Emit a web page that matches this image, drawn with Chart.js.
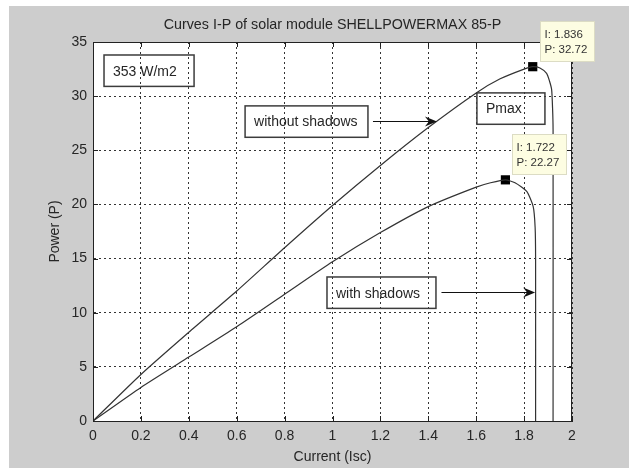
<!DOCTYPE html>
<html>
<head>
<meta charset="utf-8">
<script src="https://cdn.jsdelivr.net/npm/chart.js@4/dist/chart.umd.min.js"></script>
<style>
html, body { margin: 0; padding: 0; background: #fff; }
canvas { display: block; }
</style>
</head>
<body>
<canvas id="ipChart" width="629" height="468"></canvas>
<script>
// curve without shadows (current Isc, power P)
const curNoShade = [0, 0.2, 0.4, 0.6, 0.8, 1.0, 1.2, 1.4, 1.6, 1.7, 1.8, 1.836, 1.866, 1.894, 1.906, 1.915, 1.919, 1.921, 1.921];
const powNoShade = [0, 4.3, 8.2, 12.0, 16.0, 19.9, 23.6, 27.1, 30.3, 31.6, 32.5, 32.72, 32.6, 32.1, 31.4, 30.6, 28.8, 26.9, 0];

// curve with shadows
const curShade = [0, 0.2, 0.4, 0.6, 0.8, 1.0, 1.2, 1.4, 1.6, 1.66, 1.722, 1.762, 1.811, 1.838, 1.846, 1.848, 1.848];
const powShade = [0, 3.1, 5.9, 8.7, 11.7, 14.7, 17.4, 19.8, 21.6, 22.0, 22.27, 22.0, 21.2, 19.8, 17.9, 15.0, 0];

// data tips (maximum power points)
const peakCur = [1.836, 1.722];
const peakPow = [32.72, 22.27];

const xTicks = [0, 0.2, 0.4, 0.6, 0.8, 1, 1.2, 1.4, 1.6, 1.8, 2];
const yTicks = [0, 5, 10, 15, 20, 25, 30, 35];

const titleText = "Curves I-P of solar module SHELLPOWERMAX 85-P";
const xLabel = "Current (Isc)";
const yLabel = "Power (P)";

// text boxes, in data units
const boxLabels = ["353 W/m2", "without shadows", "Pmax", "with shadows"];
const boxX0 = [0.046, 0.635, 1.603, 0.977];
const boxX1 = [0.422, 1.148, 1.887, 1.432];
const boxYTop = [33.8, 29.1, 30.3, 13.3];
const boxYBot = [30.9, 26.2, 27.4, 10.4];

// arrows, in data units
const arrowY = [27.7, 11.9];
const arrowX0 = [1.169, 1.455];
const arrowX1 = [1.436, 1.846];

const FONT = '"Liberation Sans", Arial, sans-serif';
const INK = "#262626";

function toPoints(xs, ys) {
  return xs.map((x, i) => ({ x: x, y: ys[i] }));
}

const decor = {
  id: "decor",
  beforeDraw(chart) {
    const ctx = chart.ctx;
    const a = chart.chartArea;
    ctx.save();
    ctx.fillStyle = "#ffffff";
    ctx.fillRect(0, 0, chart.width, chart.height);
    ctx.fillStyle = "#cdcdcd";
    ctx.fillRect(9, 6, chart.width - 9, chart.height - 6);
    ctx.fillStyle = "#ffffff";
    ctx.fillRect(a.left, a.top, a.right - a.left, a.bottom - a.top);
    ctx.restore();
  },
  afterDraw(chart) {
    const ctx = chart.ctx;
    const a = chart.chartArea;
    const sx = chart.scales.x;
    const sy = chart.scales.y;
    ctx.save();

    // frame and inner tick marks
    ctx.strokeStyle = "#222";
    ctx.lineWidth = 1;
    ctx.setLineDash([]);
    ctx.strokeRect(a.left + 0.5, a.top + 0.5, a.right - a.left - 1, a.bottom - a.top);
    ctx.beginPath();
    xTicks.forEach(v => {
      const px = Math.round(sx.getPixelForValue(v)) + 0.5;
      ctx.moveTo(px, a.bottom); ctx.lineTo(px, a.bottom - 5);
      ctx.moveTo(px, a.top); ctx.lineTo(px, a.top + 5);
    });
    yTicks.forEach(v => {
      const py = Math.round(sy.getPixelForValue(v)) + 0.5;
      ctx.moveTo(a.left, py); ctx.lineTo(a.left + 5, py);
      ctx.moveTo(a.right, py); ctx.lineTo(a.right - 5, py);
    });
    ctx.stroke();

    // title and axis labels
    ctx.fillStyle = INK;
    ctx.font = "14.3px " + FONT;
    ctx.textAlign = "center";
    ctx.textBaseline = "middle";
    ctx.fillText(titleText, (a.left + a.right) / 2, 25);
    ctx.font = "14px " + FONT;
    ctx.fillText(xLabel, (a.left + a.right) / 2, 457);
    ctx.save();
    ctx.translate(55, (a.top + a.bottom) / 2);
    ctx.rotate(-Math.PI / 2);
    ctx.fillText(yLabel, 0, 0);
    ctx.restore();

    // text boxes
    ctx.strokeStyle = "#3c3c3c";
    ctx.lineWidth = 1.5;
    ctx.textAlign = "left";
    boxLabels.forEach((t, i) => {
      const x0 = sx.getPixelForValue(boxX0[i]);
      const x1 = sx.getPixelForValue(boxX1[i]);
      const y0 = sy.getPixelForValue(boxYTop[i]);
      const y1 = sy.getPixelForValue(boxYBot[i]);
      ctx.strokeRect(x0, y0, x1 - x0, y1 - y0);
      ctx.fillText(t, x0 + 9, (y0 + y1) / 2 + 1);
    });

    // arrows
    ctx.strokeStyle = "#111";
    ctx.fillStyle = "#111";
    ctx.lineWidth = 1;
    arrowY.forEach((v, i) => {
      const y = Math.round(sy.getPixelForValue(v)) + 0.5;
      const x0 = sx.getPixelForValue(arrowX0[i]);
      const x1 = sx.getPixelForValue(arrowX1[i]);
      ctx.beginPath();
      ctx.moveTo(x0, y); ctx.lineTo(x1 - 6, y);
      ctx.stroke();
      ctx.beginPath();
      ctx.moveTo(x1, y);
      ctx.lineTo(x1 - 12, y - 5);
      ctx.lineTo(x1 - 8, y);
      ctx.lineTo(x1 - 12, y + 5);
      ctx.closePath();
      ctx.fill();
    });

    // data tips
    ctx.font = "11.5px " + FONT;
    peakCur.forEach((c, i) => {
      const px = sx.getPixelForValue(c);
      const py = sy.getPixelForValue(peakPow[i]);
      const left = Math.round(px + 7) + 0.5;
      const top = Math.round(py - 46) + 0.5;
      ctx.fillStyle = "#fdfde2";
      ctx.strokeStyle = "#dcdcc4";
      ctx.fillRect(left, top, 54, 40);
      ctx.strokeRect(left, top, 54, 40);
      ctx.fillStyle = "#333";
      ctx.fillText("I: " + c, left + 4, top + 13);
      ctx.fillText("P: " + peakPow[i], left + 4, top + 28);
    });

    ctx.restore();
  }
};

document.addEventListener("DOMContentLoaded", function () {

  const el = document.getElementById("ipChart");

  new Chart(el, {
    type: "scatter",
    data: {
      datasets: [
        {
          label: "without shadows",
          data: toPoints(curNoShade, powNoShade),
          showLine: true,
          borderColor: "#333",
          borderWidth: 1.2,
          pointRadius: 0,
          tension: 0.2
        },
        {
          label: "with shadows",
          data: toPoints(curShade, powShade),
          showLine: true,
          borderColor: "#333",
          borderWidth: 1.2,
          pointRadius: 0,
          tension: 0.2
        },
        {
          label: "Pmax",
          data: toPoints(peakCur, peakPow),
          showLine: false,
          pointStyle: "rect",
          pointRadius: 6.5,
          pointHoverRadius: 6.5,
          backgroundColor: "#000",
          borderColor: "#000",
          borderWidth: 0
        }
      ]
    },
    options: {
      responsive: false,
      animation: false,
      events: [],
      layout: { padding: { left: 0, top: 42, right: 57, bottom: 0 } },
      plugins: {
        legend: { display: false },
        tooltip: { enabled: false },
        title: { display: false }
      },
      scales: {
        x: {
          type: "linear",
          min: 0,
          max: 2,
          afterBuildTicks: s => { s.ticks = xTicks.map(v => ({ value: v })); },
          afterFit: s => { s.height = 47; },
          ticks: {
            autoSkip: false,
            maxRotation: 0,
            padding: 7,
            color: INK,
            font: { family: FONT, size: 14 },
            callback: v => String(v)
          },
          grid: { color: "#333", lineWidth: 1, drawTicks: false },
          border: { display: true, color: "#222", dash: [2, 3] }
        },
        y: {
          type: "linear",
          min: 0,
          max: 35,
          afterBuildTicks: s => { s.ticks = yTicks.map(v => ({ value: v })); },
          afterFit: s => { s.width = 93; },
          ticks: {
            autoSkip: false,
            padding: 6,
            color: INK,
            font: { family: FONT, size: 14 },
            callback: v => String(v)
          },
          grid: { color: "#333", lineWidth: 1, drawTicks: false },
          border: { display: true, color: "#222", dash: [2, 3] }
        }
      }
    },
    plugins: [decor]
  });

});
</script>
</body>
</html>
